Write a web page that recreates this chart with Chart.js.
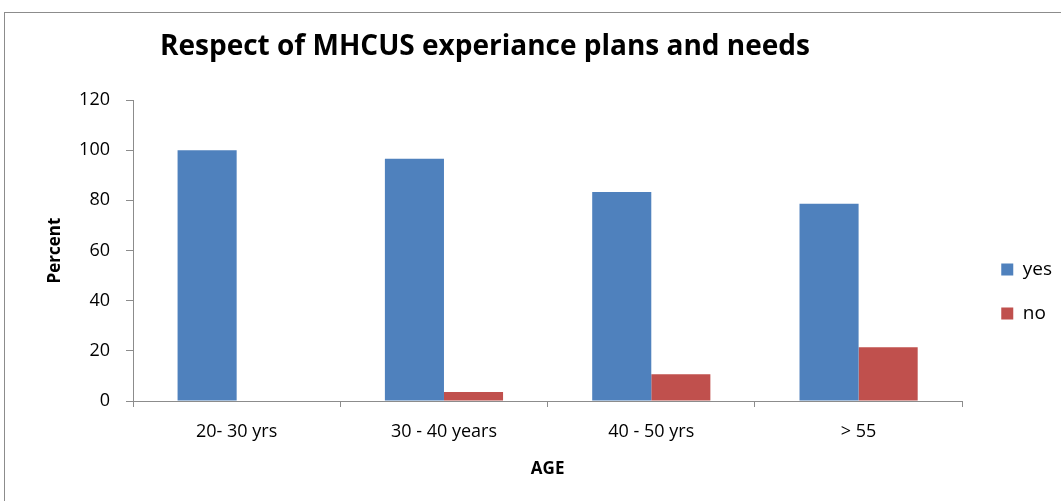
<!DOCTYPE html>
<html>
<head>
<meta charset="utf-8">
<script src="https://cdn.jsdelivr.net/npm/chart.js@4"></script>
<style>
  html, body { margin: 0; padding: 0; background: #fff; overflow: hidden; }
  #wrap { position: relative; width: 1061px; height: 501px; }
  #frame { position: absolute; left: 4px; top: 12px; width: 1100px; height: 520px; border: 1px solid #8c8c8c; box-sizing: border-box; }
  canvas { position: absolute; left: 0; top: 0; }
</style>
</head>
<body>
<div id="wrap">
  <div id="frame"></div>
  <canvas id="chart" width="1061" height="501"></canvas>
</div>
<script>
const categories = ["20- 30 yrs", "30 - 40 years", "40 - 50 yrs", "> 55"];
const yesValues = [100, 96.6, 83.3, 78.6];
const noValues = [0, 3.6, 10.7, 21.4];
const yTicks = [0, 20, 40, 60, 80, 100, 120];

const FONT = "'Open Sans', 'Liberation Sans', sans-serif";
const axisColor = "#8c8c8c";

// title sits left of centre like the original, so draw it by hand
const titlePlugin = {
  id: "leftTitle",
  afterDraw(chart) {
    const c = chart.ctx;
    c.save();
    c.font = "bold 28px " + FONT;
    c.fillStyle = "#000";
    c.textBaseline = "middle";
    c.fillText("Respect of MHCUS experiance plans and needs", 160, 47);
    c.restore();
  }
};

// nudge the legend a little right and up to where the original has it
const legendNudge = {
  id: "legendNudge",
  afterLayout(chart) {
    const lg = chart.legend;
    if (!lg) return;
    lg.left += 14; lg.right += 14;
    lg.top -= 9; lg.bottom -= 9;
  }
};

new Chart(document.getElementById("chart"), {
  type: "bar",
  data: {
    labels: categories,
    datasets: [
      { label: "yes", data: yesValues, backgroundColor: "#4f81bd", borderWidth: 0 },
      { label: "no", data: noValues, backgroundColor: "#c0504d", borderWidth: 0 }
    ]
  },
  options: {
    responsive: false,
    animation: false,
    categoryPercentage: 0.57,
    barPercentage: 1,
    layout: { padding: { top: 100, left: 0, right: 13, bottom: 0 } },
    plugins: {
      legend: {
        position: "right",
        labels: {
          boxWidth: 12,
          boxHeight: 12,
          padding: 25,
          color: "#000",
          font: { family: FONT, size: 19 }
        }
      },
      tooltip: { enabled: false }
    },
    scales: {
      x: {
        grid: { display: true, drawOnChartArea: false, drawTicks: true, tickLength: 6, color: axisColor, offset: true },
        border: { color: axisColor, width: 1 },
        ticks: { color: "#000", font: { family: FONT, size: 18 }, padding: 14 },
        title: { display: true, text: "AGE", color: "#000", font: { family: FONT, size: 17, weight: "bold" }, padding: { top: 0, bottom: 22 } },
        afterFit(scale) { scale.height = 100; }
      },
      y: {
        min: 0,
        max: 120,
        afterBuildTicks(scale) { scale.ticks = yTicks.map(v => ({ value: v })); },
        grid: { display: true, drawOnChartArea: false, drawTicks: true, tickLength: 7, color: axisColor },
        border: { color: axisColor, width: 1 },
        ticks: { color: "#000", font: { family: FONT, size: 18 }, padding: 16 },
        title: { display: true, text: "Percent", color: "#000", font: { family: FONT, size: 17, weight: "bold" }, padding: { top: 45, bottom: 0 } },
        afterFit(scale) { scale.width = 133; }
      }
    }
  },
  plugins: [titlePlugin, legendNudge]
});
</script>
</body>
</html>
